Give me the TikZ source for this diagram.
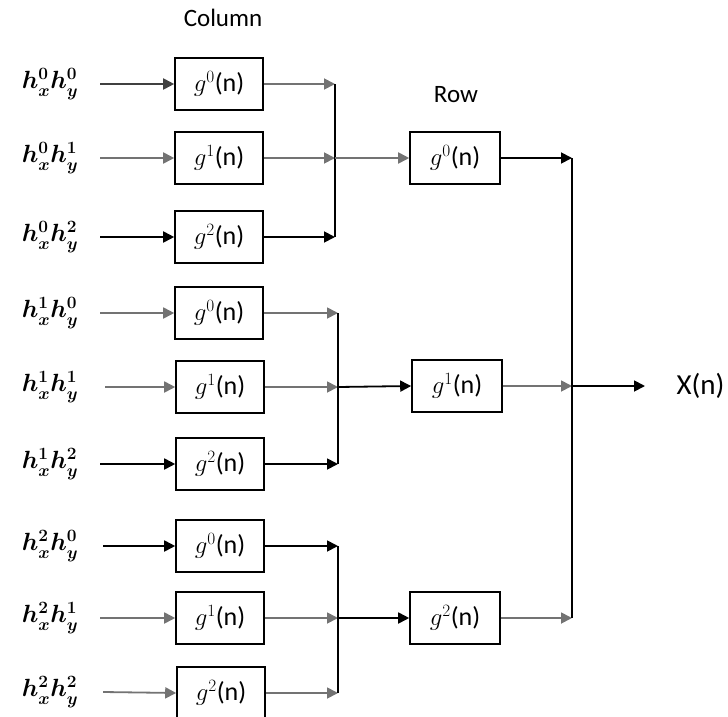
\documentclass[tikz,border=0pt]{standalone}
\usepackage{amsmath}
\usepackage{fontspec}
\setmainfont{Carlito}
\usetikzlibrary{arrows.meta}
\begin{document}
\begin{tikzpicture}[x=1pt,y=-1pt,
  box/.style={draw=black,line width=1.6pt,minimum width=88pt,minimum height=52pt,inner sep=0pt,font=\fontsize{26pt}{28pt}\selectfont},
  hlab/.style={minimum width=64pt,inner sep=0pt,font=\fontsize{27pt}{29pt}\selectfont},
  arr/.style={line width=1.8pt,-{Triangle[length=11pt,width=11pt]}},
  ln/.style={line width=1.8pt},
  gl/.style={draw=black!55}]
\useasboundingbox (0,0) rectangle (728,717);
\node[font=\fontsize{25pt}{27pt}\selectfont] (col) at (223,18) {Column};
\node[font=\fontsize{25pt}{27pt}\selectfont] (row) at (456,95) {Row};
% inputs
\foreach \i/\y/\a/\b in {1/84/0/0,2/158/0/1,3/237/0/2,4/313/1/0,5/387/1/1,6/464/1/2,7/546/2/0,8/618/2/1,9/692/2/2}{
  \node[hlab] (in\i) at (50,\y) {$\boldsymbol{h_x^{\a}h_y^{\b}}$};
}
\node[box] (c1) at (219,84) {$g^0$(n)};
\node[box] (c2) at (219,158) {$g^1$(n)};
\node[box] (c3) at (219,237) {$g^2$(n)};
\node[box] (c4) at (219,313) {$g^0$(n)};
\node[box] (c5) at (220,387) {$g^1$(n)};
\node[box] (c6) at (220,464) {$g^2$(n)};
\node[box] (c7) at (220,546) {$g^0$(n)};
\node[box] (c8) at (220,618) {$g^1$(n)};
\node[box] (c9) at (221,693) {$g^2$(n)};
\node[box,minimum width=90pt] (r1) at (455,158) {$g^0$(n)};
\node[box,minimum width=90pt] (r2) at (457,386) {$g^1$(n)};
\node[box,minimum width=90pt] (r3) at (455,618) {$g^2$(n)};
\node[font=\fontsize{29pt}{31pt}\selectfont,anchor=west] (out) at (673,386) {X(n)};
\coordinate (bus1) at (335,158);
\coordinate (bus2) at (338,387);
\coordinate (bus3) at (338,618);
\coordinate (busf) at (572,386);
% input arrows
\draw[arr,draw=black!75,fill=black] ([xshift=18pt]in1.east) -- (c1.west);
\draw[arr,gl] ([xshift=18pt]in2.east) -- (c2.west);
\draw[arr] ([xshift=18pt]in3.east) -- (c3.west);
\draw[arr,gl] ([xshift=18pt]in4.east) -- (c4.west);
\draw[arr,gl] ([xshift=23pt]in5.east) -- (c5.west);
\draw[arr] ([xshift=18pt]in6.east) -- (c6.west);
\draw[arr] ([xshift=21pt]in7.east) -- (c7.west);
\draw[arr,gl] ([xshift=18pt]in8.east) -- (c8.west);
\draw[arr,gl] ([xshift=21pt]in9.east) -- (c9.west);
% column outputs
\draw[arr,gl] (c1.east) -- (c1.east -| bus1);
\draw[arr,gl] (c2.east) -- (c2.east -| bus1);
\draw[arr] (c3.east) -- (c3.east -| bus1);
\draw[arr,gl] (c4.east) -- (c4.east -| bus2);
\draw[arr,gl] (c5.east) -- (c5.east -| bus2);
\draw[arr] (c6.east) -- (c6.east -| bus2);
\draw[arr] (c7.east) -- (c7.east -| bus3);
\draw[arr,gl] (c8.east) -- (c8.east -| bus3);
\draw[arr,gl] (c9.east) -- (c9.east -| bus3);
% buses
\draw[ln] (c1.east -| bus1) -- (c3.east -| bus1);
\draw[ln] (c4.east -| bus2) -- (c6.east -| bus2);
\draw[ln] (c7.east -| bus3) -- (c9.east -| bus3);
\draw[arr,gl] (bus1) -- (r1.west);
\draw[arr] (bus2) -- (r2.west);
\draw[arr] (bus3) -- (r3.west);
% row outputs
\draw[arr] (r1.east) -- (r1.east -| busf);
\draw[arr,gl] (r2.east) -- (r2.east -| busf);
\draw[arr,gl] (r3.east) -- (r3.east -| busf);
\draw[ln] (r1.east -| busf) -- (r3.east -| busf);
\draw[arr] (busf) -- ([xshift=-28pt]out.west);
\end{tikzpicture}
\end{document}
